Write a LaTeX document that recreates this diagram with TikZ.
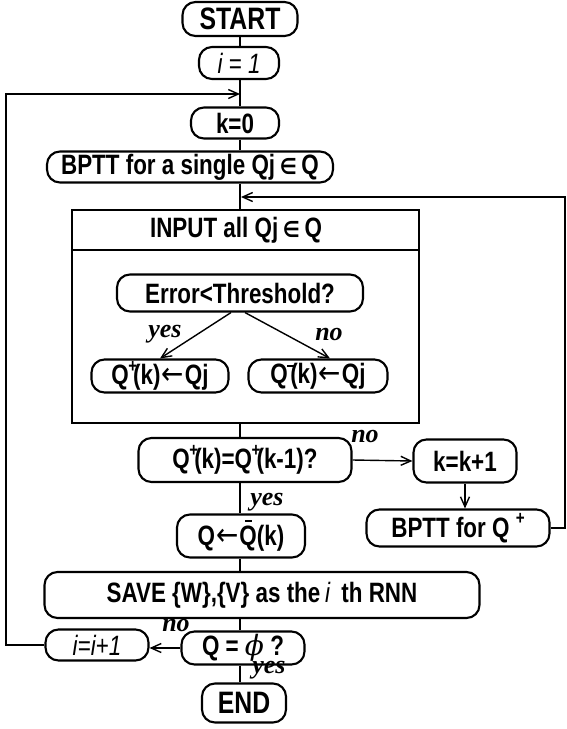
\documentclass[tikz,border=0pt]{standalone}
\usepackage{fontspec}
\setmainfont[FakeStretch=0.8]{Liberation Sans}
\newfontfamily\labelfont{Liberation Serif}
\newfontfamily\symfont[FakeStretch=0.86]{DejaVu Sans}
\newfontfamily\phifont{DejaVu Serif}
\usetikzlibrary{arrows.meta}
\usetikzlibrary{calc}

\newcommand{\supover}[1]{\kern-0.5pt\raisebox{0.42em}{\fontsize{19}{19}\selectfont #1}\kern-4pt}
\newcommand{\elem}{\,{\symfont\fontsize{22}{26}\selectfont ∈}\,}
\newcommand{\larr}{\kern1pt{\symfont\mdseries\fontsize{31}{26}\selectfont ←}\kern1pt}

\begin{document}
\begin{tikzpicture}[x=1pt,y=-1pt]
                    \tikzset{box/.style={draw,line width=2.1pt,rounded corners=13pt,inner sep=0pt,font=\fontsize{28}{30}\selectfont\bfseries}}
                    \tikzset{flow/.style={line width=1.4pt}}
                    \tikzset{arr/.style={flow,-{Straight Barb[length=10pt,width=9pt,line width=1.4pt]}}}
                    \tikzset{lbl/.style={font=\fontsize{26}{28}\selectfont\labelfont\bfseries\itshape,inner sep=0pt}}
                    \useasboundingbox (0,0) rectangle (567,729);
                    \coordinate (spine) at (240,0);
                    \coordinate (leftrail) at (6,0);
                    \coordinate (rightrail) at (565,0);
                    \coordinate (loopin) at (240,94);
                    \coordinate (loopback) at (241,197);
                    \node[box,minimum width=115pt,minimum height=34pt,font=\fontsize{31}{32}\selectfont\bfseries] (start) at (240,19) {START};
                    \node[box,minimum width=80pt,minimum height=32pt] (i1) at (239,63) {\itshape\mdseries i = 1};
                    \node[box,minimum width=88pt,minimum height=31pt] (k0) at (235,123) {k=0};
                    \node[box,minimum width=286pt,minimum height=31pt] (bptt) at (190,167) {BPTT for a single Qj\elem Q};
                    \node[draw,line width=2.1pt,minimum width=347pt,minimum height=213pt,inner sep=0pt] (input) at (245.5,316.5) {};
                    \draw[line width=2.1pt] (input.west |- 0,250) -- (input.east |- 0,250);
                    \node[font=\fontsize{28}{30}\selectfont\bfseries] (inputlbl) at (236,230) {INPUT all Qj\elem Q};
                    \node[box,minimum width=246pt,minimum height=37pt] (err) at (240,293) {Error<Threshold?};
                    \node[box,minimum width=137pt,minimum height=33pt] (qplus) at (160,376) {Q\supover{+}(k)\larr Qj};
                    \node[box,minimum width=139pt,minimum height=33pt] (qminus) at (318,376) {Q\supover{\rule[0.25em]{7pt}{1.6pt}}(k)\larr Qj};
                    \node[box,minimum width=213pt,minimum height=44pt] (cmp) at (245,460) {Q\supover{+}(k)=Q\supover{+}(k-1)?};
                    \node[box,minimum width=103pt,minimum height=43pt] (kinc) at (465,461) {k=k+1};
                    \node[box,minimum width=183pt,minimum height=37pt] (bpttq) at (458,528) {BPTT for Q \raisebox{0.45em}{\fontsize{19}{19}\selectfont +}};
                    \node[box,minimum width=128pt,minimum height=43pt] (qbar) at (241,536) {Q\larr\rlap{\kern6pt\raisebox{0.85em}{\rule{7pt}{1.8pt}}}Q(k)};
                    \node[box,minimum width=435pt,minimum height=46pt] (save) at (262,595) {SAVE \{W\},\{V\} as the\,\textit{\mdseries i}\, th RNN};
                    \node[box,minimum width=103pt,minimum height=31pt] (iinc) at (97,645) {\itshape\mdseries i=i+1};
                    \node[box,minimum width=123pt,minimum height=33pt] (qphi) at (243,648) {Q = {\phifont\itshape\mdseries ϕ} ?};
                    \node[box,minimum width=84pt,minimum height=39pt,font=\fontsize{31}{32}\selectfont\bfseries] (end) at (244,703) {END};
                    % main column
                    \draw[flow] (spine |- start.south) -- (spine |- i1.north);
                    \draw[flow] (spine |- i1.south) -- (spine |- k0.north);
                    \draw[flow] (spine |- k0.south) -- (spine |- bptt.north);
                    \draw[flow] (spine |- bptt.south) -- (spine |- input.north);
                    \draw[flow] (spine |- input.south) -- (spine |- cmp.north);
                    \draw[flow] (spine |- cmp.south) -- (spine |- qbar.north);
                    \draw[flow] (spine |- qbar.south) -- (spine |- save.north);
                    \draw[flow] (spine |- save.south) -- (spine |- qphi.north);
                    \draw[flow] (spine |- qphi.south) -- (spine |- end.north);
                    % branches
                    \draw[arr] ($(err.south)+(-9,0)$) -- (qplus.north);
                    \draw[arr] ($(err.south)+(5,0)$) -- ($(qminus.north)+(12,0)$);
                    \node[lbl] (yes1) at (165,334) {yes};
                    \node[lbl] (no1) at (329,334) {no};
                    \draw[arr] (cmp.east) -- (kinc.west);
                    \node[lbl] (no2) at (365,436) {no};
                    \node[lbl] (yes2) at (267,502) {yes};
                    \draw[arr] (kinc.south) -- (kinc.south |- bpttq.north);
                    \draw[arr] (qphi.west) -- (qphi.west -| iinc.east);
                    \node[lbl] (no3) at (176,625) {no};
                    \node[lbl] (yes3) at (269,670) {yes};
                    % loops
                    \draw[arr] (iinc.west) -- (leftrail |- iinc.west) -- (leftrail |- loopin) -- (loopin);
                    \draw[arr] (bpttq.east) -- (rightrail |- bpttq.east) -- (rightrail |- loopback) -- (loopback);
                \end{tikzpicture}
\end{document}
